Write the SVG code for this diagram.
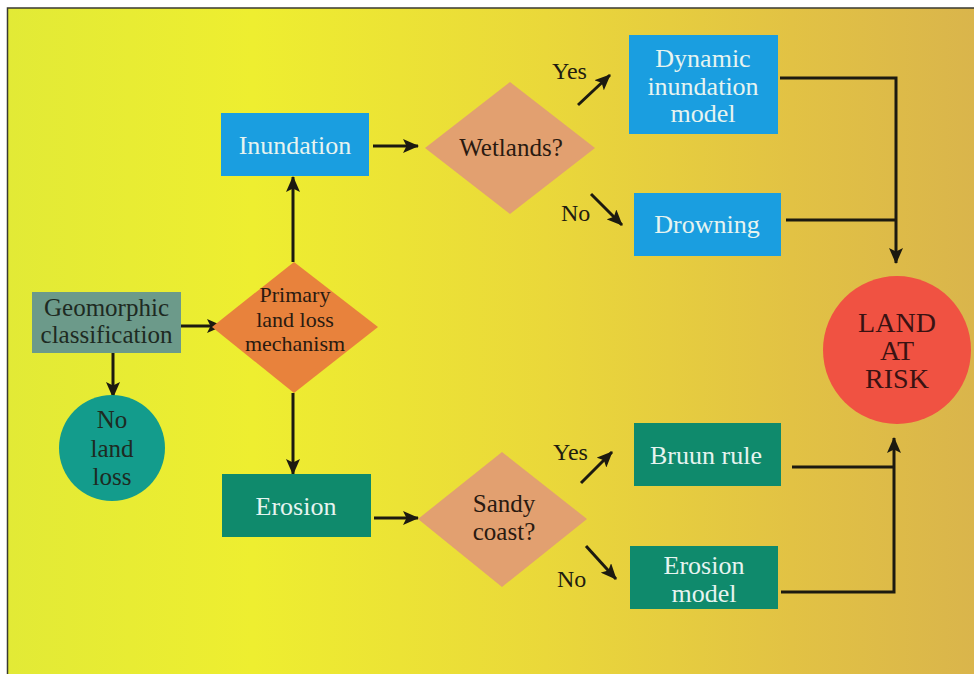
<svg xmlns="http://www.w3.org/2000/svg" width="974" height="674" viewBox="0 0 974 674">
  <defs>
    <linearGradient id="bg" x1="0" y1="0" x2="1" y2="0">
      <stop offset="0" stop-color="#e2ea36"/>
      <stop offset="0.25" stop-color="#eeee30"/>
      <stop offset="0.55" stop-color="#ead83a"/>
      <stop offset="0.8" stop-color="#e2c244"/>
      <stop offset="1" stop-color="#d9b44c"/>
    </linearGradient>
    <marker id="arrow" viewBox="0 0 16 14" refX="15" refY="7" markerWidth="16" markerHeight="14" markerUnits="userSpaceOnUse" orient="auto">
      <path d="M0,0 L16,7 L0,14 L3.5,7 Z" fill="#1c1a10"/>
    </marker>
    <style>
      .txt { font-family: "Liberation Serif", "Times New Roman", serif; font-size: 25px; text-anchor: middle; }
      .light { fill: #e6f4f0; }
      .dark { fill: #1e2a22; }
      .lbl { font-family: "Liberation Serif", "Times New Roman", serif; font-size: 24px; fill: #221c10; }
      .blue { fill: #1a9ee0; }
      .green { fill: #0f8a6c; }
      .dia { fill: #e2a070; }
      .wire { fill: none; stroke: #1c1a10; stroke-width: 3; }
      .arr { marker-end: url(#arrow); }
    </style>
  </defs>

  <!-- page and framed panel -->
  <rect x="0" y="0" width="974" height="674" fill="#ffffff"/>
  <rect x="7.5" y="8" width="980" height="680" fill="url(#bg)" stroke="#3a3a30" stroke-width="1.5"/>

  <!-- connectors -->
  <g id="connectors">
    <path class="wire arr" d="M181,326 H222"/>
    <path class="wire arr" d="M113,353 V397"/>
    <path class="wire arr" d="M293,262 V177"/>
    <path class="wire arr" d="M293,393 V474"/>
    <path class="wire arr" d="M373,146 H418"/>
    <path class="wire arr" d="M578,105 L610,75"/>
    <path class="wire arr" d="M591,194 L622,225"/>
    <path class="wire arr" d="M780,78 H896 V263"/>
    <path class="wire" d="M786,220 H896"/>
    <path class="wire arr" d="M374,518 H418"/>
    <path class="wire arr" d="M581,483 L612,452"/>
    <path class="wire arr" d="M586,546 L616,579"/>
    <path class="wire arr" d="M781,592 H894 V438"/>
    <path class="wire" d="M792,467 H894"/>
    <text class="lbl" x="552" y="79">Yes</text>
    <text class="lbl" x="561" y="221">No</text>
    <text class="lbl" x="553" y="460">Yes</text>
    <text class="lbl" x="557" y="587">No</text>
  </g>

  <g id="geomorphic">
    <rect x="32" y="292" width="149" height="61" fill="#6c9a8a"/>
    <text class="txt dark" x="106.5" y="316">Geomorphic</text>
    <text class="txt dark" x="106.5" y="343">classification</text>
  </g>

  <g id="no-land-loss">
    <circle cx="112" cy="448" r="53" fill="#139c8c"/>
    <text class="txt dark" x="112" y="428">No</text>
    <text class="txt dark" x="112" y="457">land</text>
    <text class="txt dark" x="112" y="485">loss</text>
  </g>

  <g id="primary">
    <polygon points="294,262 378,327 294,393 212,327" fill="#e8823c"/>
    <text class="txt" x="295" y="302" style="font-size:22px; fill:#2a1a10">Primary</text>
    <text class="txt" x="295" y="327" style="font-size:22px; fill:#2a1a10">land loss</text>
    <text class="txt" x="295" y="351" style="font-size:22px; fill:#2a1a10">mechanism</text>
  </g>

  <g id="inundation">
    <rect class="blue" x="221" y="113" width="148" height="63"/>
    <text class="txt light" x="295" y="154" style="font-size:26px">Inundation</text>
  </g>

  <g id="erosion">
    <rect class="green" x="222" y="474" width="149" height="63"/>
    <text class="txt light" x="296" y="515" style="font-size:26px">Erosion</text>
  </g>

  <g id="wetlands">
    <polygon class="dia" points="510,82 595,148 510,214 425,148"/>
    <text class="txt" x="511" y="156" style="fill:#2a1a10">Wetlands?</text>
  </g>

  <g id="sandy-coast">
    <polygon class="dia" points="502,452 587,519 502,587 418,519"/>
    <text class="txt" x="504" y="512" style="fill:#2a1a10">Sandy</text>
    <text class="txt" x="504" y="540" style="fill:#2a1a10">coast?</text>
  </g>

  <g id="dynamic-inundation">
    <rect class="blue" x="629" y="35" width="149" height="99"/>
    <text class="txt light" x="703" y="67" style="font-size:26px">Dynamic</text>
    <text class="txt light" x="703" y="95" style="font-size:26px">inundation</text>
    <text class="txt light" x="703" y="122" style="font-size:26px">model</text>
  </g>

  <g id="drowning">
    <rect class="blue" x="634" y="193" width="147" height="63"/>
    <text class="txt light" x="707" y="233" style="font-size:26px">Drowning</text>
  </g>

  <g id="bruun-rule">
    <rect class="green" x="634" y="423" width="147" height="63"/>
    <text class="txt light" x="706" y="464" style="font-size:26px">Bruun rule</text>
  </g>

  <g id="erosion-model">
    <rect class="green" x="630" y="546" width="148" height="63"/>
    <text class="txt light" x="704" y="574" style="font-size:26px">Erosion</text>
    <text class="txt light" x="704" y="602" style="font-size:26px">model</text>
  </g>

  <g id="land-at-risk">
    <circle cx="897" cy="350" r="74" fill="#f05242"/>
    <text class="txt" x="897" y="332" style="font-size:28px; fill:#3a1212">LAND</text>
    <text class="txt" x="897" y="360" style="font-size:28px; fill:#3a1212">AT</text>
    <text class="txt" x="897" y="388" style="font-size:28px; fill:#3a1212">RISK</text>
  </g>
</svg>
